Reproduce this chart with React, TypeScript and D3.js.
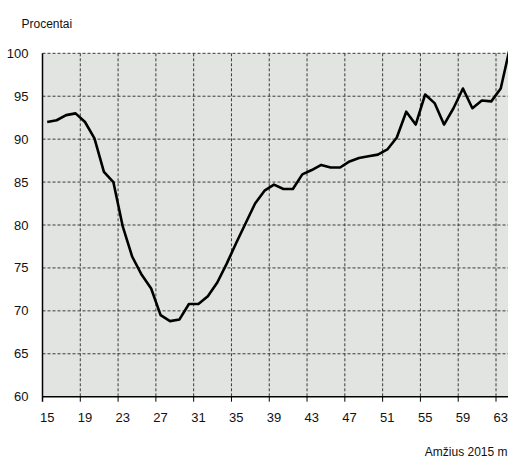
import React, { useEffect, useRef } from 'react';
import * as d3 from 'd3';

const ages = d3.range(15, 65);
const shares = [
  92.0, 92.2, 92.8, 93.0, 92.0, 90.1, 86.2, 85.0, 79.8, 76.3,
  74.2, 72.6, 69.5, 68.8, 69.0, 70.8, 70.8, 71.7, 73.3, 75.5,
  77.9, 80.2, 82.5, 84.0, 84.7, 84.2, 84.2, 85.9, 86.4, 87.0,
  86.7, 86.7, 87.4, 87.8, 88.0, 88.2, 88.8, 90.2, 93.2, 91.7,
  95.2, 94.2, 91.7, 93.6, 95.9, 93.6, 94.5, 94.4, 95.9, 100.8,
];
const xTicks = [15, 19, 23, 27, 31, 35, 39, 43, 47, 51, 55, 59, 63];
const yTicks = [60, 65, 70, 75, 80, 85, 90, 95, 100];

const W = 508;
const H = 459;
const m = { left: 42.5, top: 53.3, bottom: 396.7 };

const App = () => {
  const ref = useRef<SVGSVGElement>(null);

  useEffect(() => {
    const svg = d3.select(ref.current);
    svg.selectAll('*').remove();

    // category axis: each age is a band of 1, ticks on band edges
    const x = d3.scaleLinear().domain([15, 65]).range([m.left, m.left + 50 * 9.448]);
    const y = d3.scaleLinear().domain([60, 100]).range([m.bottom, m.top]);
    const font = 'Arial, "Liberation Sans", sans-serif';

    svg.append('rect')
      .attr('x', m.left).attr('y', m.top)
      .attr('width', W - m.left).attr('height', m.bottom - m.top)
      .attr('fill', '#e1e4e1');

    // grid
    svg.append('g').selectAll('line')
      .data(yTicks.filter(d => d > 60))
      .enter().append('line')
        .attr('x1', m.left).attr('x2', W)
        .attr('y1', d => y(d)).attr('y2', d => y(d))
        .attr('stroke', '#3a3a3a').attr('stroke-width', 1)
        .attr('stroke-dasharray', '3,2');
    svg.append('g').selectAll('line')
      .data(xTicks.slice(1))
      .enter().append('line')
        .attr('x1', d => x(d)).attr('x2', d => x(d))
        .attr('y1', m.top).attr('y2', m.bottom)
        .attr('stroke', '#3a3a3a').attr('stroke-width', 1)
        .attr('stroke-dasharray', '3,2');

    // axes
    svg.append('line')
      .attr('x1', m.left).attr('x2', m.left).attr('y1', m.top).attr('y2', m.bottom + 5)
      .attr('stroke', '#000').attr('stroke-width', 1.5);
    svg.append('line')
      .attr('x1', m.left).attr('x2', W).attr('y1', m.bottom).attr('y2', m.bottom)
      .attr('stroke', '#000').attr('stroke-width', 1.5);
    svg.append('g').selectAll('line')
      .data(xTicks.slice(1))
      .enter().append('line')
        .attr('x1', d => x(d)).attr('x2', d => x(d))
        .attr('y1', m.bottom).attr('y2', m.bottom + 5)
        .attr('stroke', '#000').attr('stroke-width', 1);

    svg.append('g').selectAll('text')
      .data(xTicks)
      .enter().append('text')
        .attr('x', d => x(d + 0.5)).attr('y', m.bottom + 25)
        .attr('text-anchor', 'middle')
        .attr('font-family', font).attr('font-size', 13).attr('fill', '#111')
        .text(d => d);
    svg.append('g').selectAll('text')
      .data(yTicks)
      .enter().append('text')
        .attr('x', 28.5).attr('y', d => y(d) + 4.5)
        .attr('text-anchor', 'end')
        .attr('font-family', font).attr('font-size', 13).attr('fill', '#111')
        .text(d => d);

    svg.append('text')
      .attr('x', 21.5).attr('y', 28)
      .attr('font-family', font).attr('font-size', 12).attr('fill', '#111')
      .text('Procentai');
    svg.append('text')
      .attr('x', 507.5).attr('y', 456)
      .attr('text-anchor', 'end')
      .attr('font-family', font).attr('font-size', 12).attr('fill', '#111')
      .text('Amžius 2015 m');

    // series
    const line = d3.line<number>()
      .x((_, i) => x(ages[i] + 0.5))
      .y(d => y(d));
    svg.append('path')
      .datum(shares)
      .attr('d', line)
      .attr('fill', 'none')
      .attr('stroke', '#000')
      .attr('stroke-width', 2.6)
      .attr('stroke-linejoin', 'round');
  }, []);

  return (
    <svg
      ref={ref}
      width={W}
      height={H}
      style={{ position: 'absolute', left: 0, top: 0, background: '#fff' }}
    />
  );
};

export default App;
